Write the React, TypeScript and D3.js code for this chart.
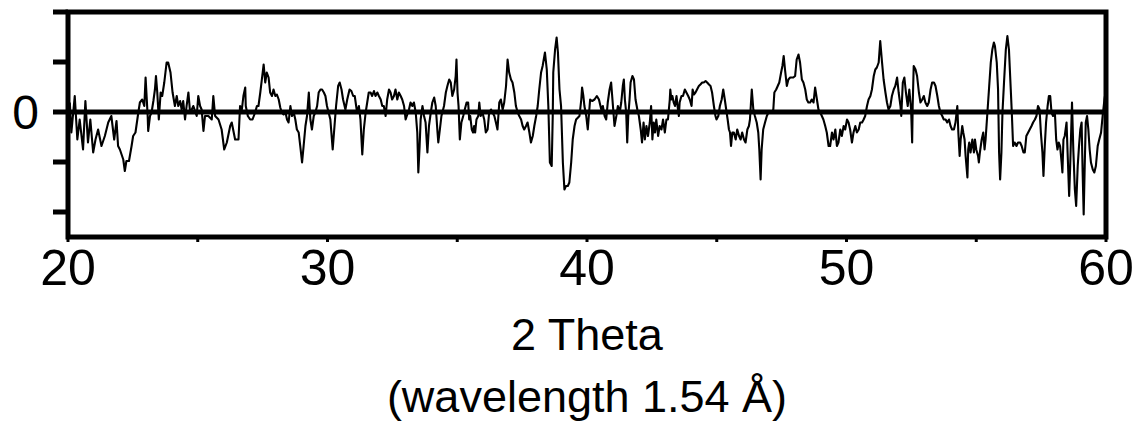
import React, { useEffect, useRef } from "react";
import * as d3 from "d3";

// axis ticks
const xMajorTicks = [20, 30, 40, 50, 60];
const xMinorTicks = [25, 35, 45, 55];
const yTicks = [-2, -1, 0, 1, 2];
const yLabelledTicks = [0];
const xTitle = "2 Theta";
const xSubtitle = "(wavelength 1.54 Å)";

// difference pattern, [2 theta, intensity] (1 unit = 1 tick)
const diffScan: [number, number][] = [
  [20.07, 0.19], [20.13, -0.41], [20.26, 0.32], [20.36, -0.55], [20.45, -0.15], [20.58, -0.75],
  [20.67, 0.22], [20.77, -0.61], [20.86, -0.15], [20.97, -0.81], [21.06, -0.55], [21.16, -0.35],
  [21.29, -0.68], [21.42, -0.48], [21.55, -0.21], [21.67, -0.08], [21.78, -0.55], [21.87, -0.18],
  [21.93, -0.68], [22.0, -0.75], [22.13, -0.95], [22.19, -1.18], [22.25, -0.98], [22.35, -0.98],
  [22.45, -0.68], [22.51, -0.48], [22.6, -0.41], [22.71, -0.01], [22.77, 0.19], [22.86, 0.25],
  [22.94, 0.12], [22.99, 0.69], [23.07, -0.08], [23.09, -0.38], [23.16, -0.08], [23.22, -0.01],
  [23.29, 0.22], [23.35, 0.45], [23.39, 0.72], [23.44, 0.39], [23.5, -0.15], [23.57, 0.39],
  [23.63, 0.32], [23.71, 0.59], [23.8, 0.99], [23.86, 0.99], [23.95, 0.79], [24.03, 0.39],
  [24.12, 0.12], [24.19, 0.32], [24.25, 0.12], [24.32, 0.22], [24.38, 0.05], [24.44, 0.22],
  [24.51, -0.15], [24.57, 0.12], [24.64, 0.39], [24.7, 0.02], [24.77, 0.05], [24.83, 0.12],
  [24.96, -0.08], [25.02, 0.32], [25.09, 0.12], [25.15, 0.05], [25.22, -0.38], [25.28, -0.08],
  [25.41, -0.08], [25.54, -0.15], [25.6, 0.32], [25.67, -0.08], [25.8, -0.15], [25.92, -0.35],
  [26.02, -0.75], [26.12, -0.61], [26.25, -0.28], [26.31, -0.21], [26.44, -0.55], [26.57, -0.55],
  [26.63, 0.12], [26.7, 0.05], [26.76, 0.32], [26.83, 0.49], [26.85, 0.12], [26.93, -0.08],
  [27.02, -0.15], [27.11, -0.15], [27.21, -0.01], [27.28, 0.12], [27.34, 0.12], [27.41, 0.39],
  [27.47, 0.65], [27.54, 0.95], [27.6, 0.59], [27.66, 0.79], [27.73, 0.69], [27.79, 0.39],
  [27.86, 0.32], [27.92, 0.45], [27.99, 0.32], [28.05, 0.35], [28.12, 0.25], [28.18, 0.09],
  [28.24, -0.01], [28.31, -0.05], [28.37, 0.02], [28.44, -0.15], [28.5, -0.21], [28.57, 0.12],
  [28.63, -0.08], [28.7, -0.01], [28.76, -0.15], [28.82, -0.35], [28.89, -0.41], [28.95, -0.68],
  [29.02, -1.01], [29.08, -0.68], [29.15, -0.28], [29.21, -0.08], [29.28, 0.39], [29.34, -0.15],
  [29.4, -0.35], [29.47, -0.08], [29.53, -0.01], [29.6, 0.12], [29.66, 0.39], [29.73, 0.45],
  [29.79, 0.45], [29.86, 0.39], [29.92, 0.32], [29.98, 0.12], [30.11, -0.15], [30.2, -0.75],
  [30.28, -0.21], [30.33, 0.12], [30.41, 0.52], [30.47, 0.59], [30.54, 0.45], [30.6, 0.25],
  [30.69, 0.05], [30.76, 0.25], [30.85, 0.45], [30.92, 0.42], [30.99, 0.32], [31.05, 0.32],
  [31.14, -0.01], [31.21, 0.12], [31.27, -0.15], [31.34, -0.85], [31.4, -0.35], [31.47, -0.01],
  [31.53, 0.19], [31.59, 0.39], [31.66, 0.39], [31.72, 0.32], [31.79, 0.42], [31.85, 0.32],
  [31.92, 0.39], [31.98, 0.32], [32.05, 0.25], [32.11, 0.12], [32.17, 0.12], [32.24, -0.08],
  [32.3, 0.25], [32.37, 0.45], [32.43, 0.39], [32.49, 0.25], [32.56, 0.32], [32.62, 0.45],
  [32.69, 0.25], [32.75, 0.39], [32.82, 0.32], [32.88, 0.25], [32.95, 0.12], [33.01, -0.15],
  [33.14, 0.05], [33.2, 0.19], [33.27, 0.12], [33.33, 0.19], [33.4, -0.01], [33.46, -0.41],
  [33.5, -1.21], [33.55, -0.68], [33.59, -0.15], [33.66, 0.12], [33.72, -0.08], [33.78, -0.21],
  [33.85, -0.81], [33.91, -0.28], [33.98, -0.01], [34.04, 0.19], [34.11, 0.29], [34.17, 0.12],
  [34.24, -0.41], [34.27, -0.61], [34.33, -0.35], [34.39, -0.08], [34.49, 0.12], [34.56, 0.39],
  [34.62, 0.52], [34.69, 0.65], [34.75, 0.59], [34.81, 0.32], [34.88, 0.45], [34.94, 0.72],
  [34.97, 1.05], [35.01, 0.39], [35.05, 0.12], [35.1, -0.55], [35.16, -0.21], [35.23, -0.08],
  [35.29, 0.05], [35.36, 0.19], [35.42, 0.19], [35.46, -0.15], [35.5, -0.08], [35.56, -0.35],
  [35.61, -0.41], [35.65, -0.28], [35.69, -0.41], [35.74, -0.15], [35.81, -0.08], [35.85, 0.19],
  [35.9, -0.08], [35.97, -0.01], [36.04, -0.15], [36.1, -0.41], [36.17, -0.35], [36.23, -0.01],
  [36.3, 0.05], [36.36, -0.01], [36.43, -0.08], [36.49, -0.21], [36.55, -0.35], [36.62, 0.19],
  [36.68, 0.25], [36.75, 0.05], [36.81, 0.19], [36.88, 0.52], [36.94, 1.05], [37.0, 0.79],
  [37.07, 0.65], [37.13, 0.59], [37.2, 0.39], [37.26, 0.12], [37.33, -0.01], [37.39, -0.08],
  [37.46, -0.15], [37.52, -0.28], [37.58, -0.35], [37.65, -0.28], [37.71, -0.21], [37.78, -0.41],
  [37.84, -0.61], [37.91, -0.48], [37.97, -0.28], [38.04, -0.08], [38.1, 0.12], [38.16, 0.45],
  [38.23, 0.79], [38.29, 0.92], [38.38, 1.19], [38.45, 0.85], [38.51, 0.12], [38.57, -1.01],
  [38.64, -1.08], [38.68, -0.08], [38.7, 0.79], [38.77, 1.25], [38.83, 1.49], [38.88, 1.19],
  [38.94, 0.45], [39.0, 0.12], [39.07, -1.01], [39.13, -1.55], [39.19, -1.48], [39.26, -1.48],
  [39.32, -1.41], [39.39, -1.01], [39.45, -0.55], [39.52, -0.28], [39.58, -0.15], [39.71, -0.08],
  [39.78, 0.25], [39.81, 0.49], [39.86, 0.32], [39.9, 0.12], [39.97, -0.08], [40.03, -0.35],
  [40.07, -0.08], [40.12, 0.25], [40.2, 0.22], [40.29, 0.25], [40.38, 0.32], [40.46, 0.25],
  [40.55, 0.05], [40.61, 0.12], [40.68, -0.08], [40.74, -0.15], [40.8, 0.19], [40.87, 0.45],
  [40.93, 0.59], [41.0, 0.12], [41.06, -0.28], [41.13, -0.08], [41.19, 0.12], [41.26, -0.01],
  [41.32, 0.19], [41.38, 0.52], [41.42, 0.65], [41.46, 0.25], [41.51, -0.01], [41.55, -0.61],
  [41.59, -0.08], [41.64, 0.25], [41.68, 0.59], [41.75, 0.72], [41.81, 0.65], [41.87, 0.25],
  [41.94, 0.05], [42.0, -0.08], [42.07, -0.35], [42.12, -0.61], [42.18, -0.21], [42.23, -0.55],
  [42.29, -0.28], [42.35, -0.48], [42.42, -0.21], [42.47, 0.12], [42.52, -0.55], [42.57, -0.21],
  [42.62, -0.41], [42.67, -0.15], [42.74, -0.48], [42.8, -0.28], [42.87, -0.35], [42.93, -0.15],
  [43.0, -0.41], [43.06, -0.15], [43.12, -0.15], [43.19, 0.25], [43.21, 0.45], [43.25, 0.25],
  [43.29, 0.32], [43.34, 0.19], [43.39, 0.12], [43.45, 0.32], [43.49, 0.12], [43.54, -0.08],
  [43.57, 0.19], [43.64, 0.32], [43.7, 0.32], [43.77, 0.45], [43.83, 0.39], [43.9, 0.32],
  [43.96, 0.25], [44.03, 0.12], [44.07, 0.45], [44.12, 0.35], [44.18, 0.39], [44.24, 0.45],
  [44.31, 0.52], [44.37, 0.55], [44.44, 0.59], [44.5, 0.59], [44.57, 0.62], [44.63, 0.59],
  [44.7, 0.55], [44.76, 0.52], [44.82, 0.39], [44.89, 0.12], [44.95, -0.08], [44.99, -0.15],
  [45.06, -0.08], [45.12, 0.12], [45.19, 0.25], [45.25, 0.45], [45.31, 0.25], [45.38, -0.01],
  [45.42, -0.15], [45.47, -0.35], [45.51, -0.41], [45.55, -0.68], [45.6, -0.41], [45.66, -0.41],
  [45.73, -0.55], [45.79, -0.35], [45.86, -0.48], [45.92, -0.55], [45.98, -0.41], [46.05, -0.55],
  [46.11, -0.61], [46.18, -0.35], [46.24, -0.28], [46.28, -0.15], [46.35, 0.45], [46.41, 0.05],
  [46.47, -0.08], [46.54, -0.21], [46.6, -0.41], [46.64, -0.75], [46.69, -1.35], [46.73, -0.75],
  [46.79, -0.35], [46.86, -0.21], [46.93, -0.08], [46.99, -0.01], [47.12, -0.01], [47.18, 0.05],
  [47.22, 0.39], [47.29, 0.45], [47.35, 0.52], [47.41, 0.59], [47.48, 0.79], [47.53, 0.92],
  [47.58, 1.12], [47.63, 0.85], [47.7, 0.52], [47.76, 0.65], [47.83, 0.69], [47.89, 0.69],
  [47.95, 0.69], [48.02, 0.72], [48.08, 1.05], [48.15, 1.15], [48.21, 0.99], [48.28, 0.65],
  [48.34, 0.59], [48.41, 0.45], [48.47, 0.25], [48.53, 0.19], [48.6, 0.19], [48.66, 0.25],
  [48.73, 0.19], [48.79, 0.49], [48.86, 0.25], [48.92, 0.05], [48.99, -0.01], [49.05, -0.08],
  [49.11, -0.15], [49.18, -0.28], [49.24, -0.41], [49.31, -0.68], [49.37, -0.68], [49.44, -0.41],
  [49.5, -0.55], [49.57, -0.35], [49.63, -0.68], [49.69, -0.61], [49.76, -0.35], [49.82, -0.48],
  [49.89, -0.28], [49.95, -0.35], [50.02, -0.15], [50.08, -0.21], [50.14, -0.35], [50.21, -0.61],
  [50.27, -0.41], [50.34, -0.28], [50.4, -0.41], [50.47, -0.35], [50.53, -0.21], [50.6, -0.21],
  [50.66, -0.15], [50.72, -0.08], [50.79, 0.12], [50.85, 0.25], [50.92, 0.32], [50.98, 0.45],
  [51.05, 0.72], [51.11, 0.85], [51.17, 0.89], [51.24, 0.99], [51.3, 1.42], [51.37, 0.99],
  [51.43, 0.65], [51.5, 0.39], [51.56, 0.19], [51.62, 0.05], [51.69, 0.12], [51.75, 0.32],
  [51.82, 0.45], [51.88, 0.52], [51.95, 0.69], [52.01, 0.39], [52.08, 0.12], [52.11, -0.08],
  [52.17, 0.59], [52.23, 0.69], [52.29, 0.39], [52.36, 0.12], [52.42, 0.45], [52.49, 0.05],
  [52.53, -0.61], [52.55, 0.12], [52.59, 0.92], [52.66, 0.85], [52.72, 0.72], [52.79, 0.39],
  [52.85, 0.19], [52.92, 0.25], [52.98, 0.32], [53.04, 0.19], [53.11, 0.12], [53.17, 0.19],
  [53.24, 0.45], [53.3, 0.59], [53.37, 0.59], [53.43, 0.52], [53.5, 0.32], [53.56, 0.12],
  [53.62, -0.01], [53.69, -0.08], [53.75, -0.15], [53.82, -0.15], [53.88, -0.21], [53.95, -0.15],
  [54.01, -0.28], [54.07, -0.35], [54.14, -0.35], [54.2, -0.21], [54.27, 0.12], [54.31, -0.41],
  [54.36, -0.88], [54.4, -0.55], [54.46, -0.28], [54.5, -0.41], [54.55, -0.55], [54.59, -0.88],
  [54.66, -1.31], [54.69, -0.75], [54.73, -0.61], [54.78, -0.81], [54.85, -0.55], [54.91, -0.81],
  [54.95, -0.55], [55.0, -0.75], [55.07, -0.88], [55.1, -1.01], [55.14, -0.81], [55.21, -0.55],
  [55.27, -0.41], [55.32, -0.75], [55.36, -0.55], [55.43, -0.01], [55.49, 0.45], [55.56, 0.99],
  [55.62, 1.25], [55.68, 1.39], [55.72, 1.32], [55.79, 0.99], [55.84, 0.45], [55.88, -0.81],
  [55.92, -1.35], [55.97, -0.81], [56.01, -0.01], [56.07, 0.59], [56.14, 1.25], [56.2, 1.52],
  [56.26, 1.25], [56.33, 0.45], [56.37, -0.01], [56.42, -0.68], [56.48, -0.61], [56.55, -0.68],
  [56.61, -0.61], [56.69, -0.61], [56.75, -0.68], [56.82, -0.81], [56.87, -0.81], [56.93, -0.48],
  [57.0, -0.41], [57.06, -0.35], [57.13, -0.28], [57.19, -0.21], [57.26, -0.15], [57.32, -0.08],
  [57.38, 0.12], [57.44, 0.05], [57.49, -0.41], [57.55, -0.81], [57.59, -1.28], [57.64, -0.68],
  [57.69, -0.21], [57.75, 0.12], [57.8, 0.32], [57.85, 0.32], [57.9, -0.01], [57.96, -0.08],
  [58.03, -0.01], [58.08, -0.55], [58.13, -0.75], [58.18, -0.61], [58.23, -0.68], [58.29, -1.01],
  [58.32, -1.21], [58.36, -0.55], [58.41, -0.48], [58.48, -0.21], [58.52, -0.81], [58.58, -1.68],
  [58.62, -1.08], [58.69, 0.19], [58.74, -0.75], [58.8, -1.55], [58.85, -1.88], [58.91, -1.08],
  [58.96, -0.68], [59.01, -0.35], [59.06, -0.21], [59.1, -1.21], [59.14, -2.05], [59.18, -1.08],
  [59.22, -0.21], [59.27, -0.08], [59.32, -0.35], [59.37, -0.75], [59.42, -1.01], [59.49, -1.15],
  [59.55, -1.21], [59.61, -1.08], [59.68, -0.68], [59.74, -0.55], [59.81, -0.41], [59.87, -0.08],
  [59.94, 0.25], [60.0, 0.45],
];

const FONT = "'Liberation Sans', Arial, Helvetica, sans-serif";

function DiffractionDifference() {
  const svgRef = useRef<SVGSVGElement | null>(null);

  useEffect(() => {
    const svg = d3.select(svgRef.current);
    svg.selectAll("*").remove();

    const frame = { left: 68, right: 1106, top: 12, bottom: 237 };
    const axisWidth = 5;

    const x = d3.scaleLinear().domain([20, 60]).range([frame.left, frame.right]);
    const y = d3.scaleLinear().domain([-2.5, 2]).range([frame.bottom, frame.top]);

    // y ticks stick out to the left of the frame
    svg
      .append("g")
      .selectAll("line")
      .data(yTicks)
      .join("line")
      .attr("x1", frame.left - 15)
      .attr("x2", frame.left)
      .attr("y1", (d) => y(d))
      .attr("y2", (d) => y(d))
      .attr("stroke", "#000")
      .attr("stroke-width", axisWidth);

    svg
      .append("g")
      .selectAll("text")
      .data(yLabelledTicks)
      .join("text")
      .attr("x", 39)
      .attr("y", (d) => y(d))
      .attr("dy", "0.36em")
      .attr("text-anchor", "end")
      .attr("font-family", FONT)
      .attr("font-size", 48)
      .text((d) => d);

    // small bumps under the bottom axis
    svg
      .append("g")
      .selectAll("line")
      .data([...xMajorTicks, ...xMinorTicks])
      .join("line")
      .attr("x1", (d) => x(d))
      .attr("x2", (d) => x(d))
      .attr("y1", frame.bottom)
      .attr("y2", frame.bottom + 5)
      .attr("stroke", "#000")
      .attr("stroke-width", 3);

    svg
      .append("g")
      .selectAll("text")
      .data(xMajorTicks)
      .join("text")
      .attr("x", (d) => x(d))
      .attr("y", 285)
      .attr("text-anchor", "middle")
      .attr("font-family", FONT)
      .attr("font-size", 50)
      .text((d) => d);

    // zero line
    svg
      .append("line")
      .attr("x1", frame.left)
      .attr("x2", frame.right)
      .attr("y1", y(0))
      .attr("y2", y(0))
      .attr("stroke", "#000")
      .attr("stroke-width", axisWidth);

    const line = d3
      .line<[number, number]>()
      .x((d) => x(d[0]))
      .y((d) => y(d[1]));

    svg
      .append("path")
      .datum(diffScan)
      .attr("d", line)
      .attr("fill", "none")
      .attr("stroke", "#000")
      .attr("stroke-width", 2.1)
      .attr("stroke-linejoin", "round");

    svg
      .append("rect")
      .attr("x", frame.left)
      .attr("y", frame.top)
      .attr("width", frame.right - frame.left)
      .attr("height", frame.bottom - frame.top)
      .attr("fill", "none")
      .attr("stroke", "#000")
      .attr("stroke-width", axisWidth);

    const midX = (frame.left + frame.right) / 2;
    svg
      .append("text")
      .attr("x", midX)
      .attr("y", 350)
      .attr("text-anchor", "middle")
      .attr("font-family", FONT)
      .attr("font-size", 45)
      .text(xTitle);

    svg
      .append("text")
      .attr("x", midX)
      .attr("y", 412)
      .attr("text-anchor", "middle")
      .attr("font-family", FONT)
      .attr("font-size", 45)
      .text(xSubtitle);
  }, []);

  return (
    <svg
      ref={svgRef}
      width={1138}
      height={428}
      style={{ position: "absolute", left: 0, top: 0, background: "#fff" }}
    />
  );
}

export default function App() {
  return <DiffractionDifference />;
}
